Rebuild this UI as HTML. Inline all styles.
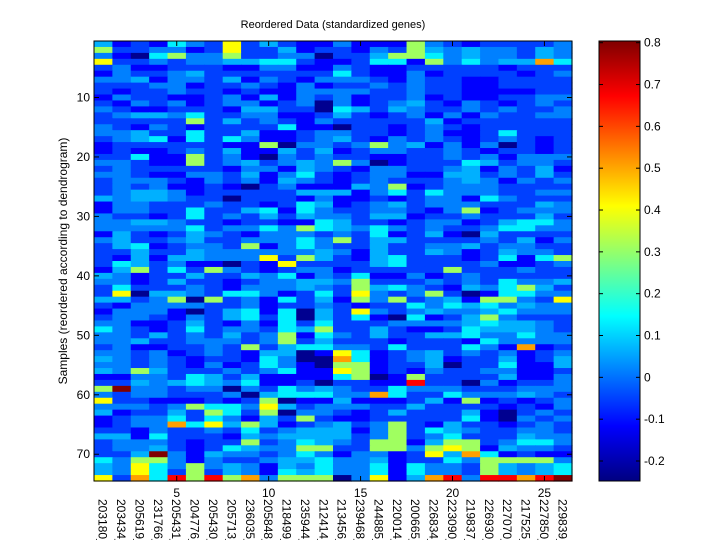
<!DOCTYPE html>
<html><head><meta charset="utf-8"><style>
html,body{margin:0;padding:0;background:#fff;}
svg{display:block;font-family:"Liberation Sans",Arial,sans-serif;}
</style></head><body>
<svg id="s" width="720" height="540" xmlns="http://www.w3.org/2000/svg">
<defs><linearGradient id="jet" x1="0" y1="1" x2="0" y2="0">
<stop offset="0" stop-color="#000080"/><stop offset="0.125" stop-color="#0000ff"/>
<stop offset="0.375" stop-color="#00ffff"/><stop offset="0.625" stop-color="#ffff00"/>
<stop offset="0.875" stop-color="#ff0000"/><stop offset="1" stop-color="#800000"/>
</linearGradient></defs>
<g id="hm"></g>
<rect x="94" y="41" width="478" height="440" fill="none" stroke="#000" stroke-width="1"/>
<rect x="599" y="41" width="41" height="440" fill="url(#jet)" stroke="#000" stroke-width="1"/>
<g id="ax" font-size="12"></g>
<text x="333" y="28" font-size="11" text-anchor="middle">Reordered Data (standardized genes)</text>
<text transform="translate(67,261) rotate(-90)" font-size="12" text-anchor="middle">Samples (reordered according to dendrogram)</text>
</svg>
<script>
var P={N:"#000090",D:"#0000ff",B:"#0040ff",M:"#0080ff",L:"#00b0ff",C:"#00f0ff",G:"#a0ff60",Y:"#ffff00",O:"#ffa000",R:"#ff0000",K:"#800000"};
var rows=[
"LDBDCMBYBLBDD"+"MDDDGMBDBBBBM",
"GBBMMDBYBBLDB"+"BDMBGLMLMMBLM",
"MDNCGMMGBBMMN"+"BBLGGCMLMMBLM",
"YBBMBMMLLCCBD"+"DBCCDGMCMLLOC",
"BMDDBBBDDMMDD"+"MBDDBBBBBDBBB",
"DMBBMLBBBBBBB"+"CBDDMDBBBBDBM",
"MMLDMMBLDMBDM"+"MMBDMBBDDBBBB",
"BBBMMDBBMBDMD"+"BBMBMBBDDBBBB",
"BDBBMBBDBDDMM"+"MMBBMBBDDDDBB",
"DMBBDDBMDLDMB"+"MDBBMDBDDBBMM",
"BDMBMDBMMDBMN"+"MDBMLBDMBDBMB",
"MBDDBBBDLLBBN"+"CLBLMBBMBMBBM",
"BMLLMCBBMMDDB"+"LBDBMDMDMBBMM",
"BBBBBGBLBMBDM"+"BBBBBLDBBBBBB",
"MBDMBDBBBBCDD"+"NBBDBMBDBBBBB",
"MMLBBCBBLDDBM"+"MBBDBMDDBCBBB",
"BMLCDCBCMDDBM"+"LBDMBMBDBMBDB",
"DBBBBBBDDGNMM"+"BMGMLDMDMNBDB",
"DBDDBMBLDDLBL"+"DBMMBBMBDBBDB",
"BBCDDGBMDNMBM"+"BBDDBBMBMDMMM",
"MMBDDGBMLBMLM"+"GMNDBBBCLBMMB",
"BMBBBBBDMMDLM"+"BDMMBBMLDMBLD",
"MMBDDMMBLDMCB"+"DBMMDDLLBMBLB",
"BMMMBDMBMDLMB"+"DBMBBBMLMDMBM",
"BMBMDDBDNBMDD"+"DLMGDBMMMBBBB",
"BMLLMDBBBBBLL"+"LDMCBCMMMBBMM",
"LMLLMBBNBBBDM"+"DDBDBMMDCMBBB",
"DMMBBBMBBDBCL"+"DBMLBMMMBBBLM",
"DMMBBCBBLCDCM"+"BBMMBDMGDBMMM",
"MBBDBCBMBLBLM"+"MBLLDBBMBBBLB",
"MMLLMBBDBBDDC"+"LBBDBMMDBLCCM",
"MMMMMCBMMCMGC"+"LMCMBMBBMCCMM",
"DLBDBLMBDMMMB"+"MBCDBLDNLBBBB",
"MLBBMLBBMMMCM"+"GBLLBBBBMBLDM",
"BLCDBMMBGDMCM"+"BBLBBMMLBMMBB",
"BBLBBLMMMMMML"+"MDLBBLMDBLMMB",
"BDLDLLMMMYBGL"+"BDLCBBBDBCDCG",
"BCLBMDDNBDYBB"+"BBLCBBBBMDDBM",
"DLGBCBGMBDBMM"+"DBBBBBGBBBMBB",
"LMDBBLBBLMCDM"+"BCDDMDBMBBBBB",
"MMDBLBBDBMMLL"+"MGBBBMBMBCMML",
"BCBBBMBDMMMLM"+"BGLCMBDLMCGLB",
"BYNLLMBCCMDBC"+"BYMBMGBNDCCMM",
"LLBMGNGBMDCBL"+"DGMGBMLDGGMBY",
"BDMMMMBBMDBBM"+"BDBBCMCLCMLMM",
"DMMMDNBLCDCNL"+"BYMBMLMMLCMMM",
"BMMBDMBLCBCNL"+"BCDNCDBLGMBBB",
"MMDDBLBDMDCBC"+"BBBMMMMLCLLMB",
"CMBDBCBMMBCLG"+"BBLBDDBCLLLMB",
"MMBLBMBLBMGDC"+"MBLBBLLCMMCMM",
"MMLBBMMMBMGBL"+"BBBDBBBDCMMMM",
"BMDDBBMBGBLCC"+"MMBCBBBCMDODB",
"MMBMDBMBDLLND"+"YCDBMLBMBMDBM",
"LMBMBDBBDCMNN"+"OCDBMLDBBLDBL",
"MMBMBDMDBCMDN"+"GGDBBLNBBCDDL",
"LMGLBBBMBMCDD"+"YGDBDMBBMMDDB",
"DDMMBCLBLDDDD"+"CGNDGBBBBLDDM",
"BBLMLCLMCDDBN"+"BBDDRBBNMDBBM",
"GKMMBMMNMBCML"+"MBBCMMMBBBMMM",
"MBMMBBBMNLCCC"+"MMOCBBCMMMLMB",
"YBBDDDBDBGNDD"+"LDDDBLDGDBDBM",
"MMMBMGCCMYLBM"+"MMBBLBBBBDBDM",
"LDBBLBGCBGNMM"+"BDBLBBBLDNBMB",
"DBMMCBCMDLBGB"+"DDBBBBBCDNMBM",
"DBMMOCYLGLDBM"+"LBMGBDLBBDBMB",
"BBDMBBMBCBMLL"+"LDMGBCLMBBMMB",
"LLDCBBBDLMLLL"+"LBMGBMCBBBLMM",
"BMMMBDBBGBMCL"+"MBGGDLGGBMCCM",
"BMMLBDBCLMMGG"+"BBGGMGYGDLMMB",
"BBLKMDLMMBMCM"+"DMMDBYLOCDBDD",
"CMGGMDMBBMLLC"+"MMLDBBCMGGGGM",
"LMYCMGMLMDLMC"+"MMCDCMMBGLMLC",
"LMYCBGBLMDCLC"+"MMCDCMMBGLMLC",
"YBOCRGRGOMGGG"+"NMYDLORMRRORK"
];
var h='',x0=94,y0=41,cw=478/26,rh=440/74;
for(var r=0;r<rows.length;r++){for(var c=0;c<26;c++){
var ch=rows[r][c]||'M';
h+='<rect x="'+(x0+c*cw).toFixed(2)+'" y="'+(y0+r*rh).toFixed(2)+'" width="'+(cw+0.6).toFixed(2)+'" height="'+(rh+0.6).toFixed(2)+'" fill="'+P[ch]+'"/>';}}
document.getElementById('hm').innerHTML=h;
var a='';
for(var k=10;k<=70;k+=10){var y=y0+(k-0.5)*rh;
a+='<line x1="94" y1="'+y+'" x2="99" y2="'+y+'" stroke="#000"/><line x1="567" y1="'+y+'" x2="572" y2="'+y+'" stroke="#000"/>';
a+='<text x="90" y="'+(y+4)+'" text-anchor="end">'+k+'</text>';}
for(var k=5;k<=25;k+=5){var x=x0+(k-0.5)*cw;
a+='<line x1="'+x+'" y1="481" x2="'+x+'" y2="476" stroke="#000"/><line x1="'+x+'" y1="41" x2="'+x+'" y2="46" stroke="#000"/>';
a+='<text x="'+x+'" y="497" text-anchor="middle">'+k+'</text>';}
var labs=["203180_","203434_","205619_","231766_","205431_","204776_","205430_","205713_","236035_","205848_","218499_","235944_","212414_","213456_","239468_","244885_","220014_","200665_","226834_","223090_","219837_","226930_","227070_","217525_","227850_","229839_"];
for(var c=0;c<26;c++){var x=x0+(c+0.5)*cw;
a+='<text transform="translate('+(x-4.5)+',499) rotate(90)" text-anchor="start">'+labs[c]+'</text>';}
var vals=[0.8,0.7,0.6,0.5,0.4,0.3,0.2,0.1,0,-0.1,-0.2];
for(var i=0;i<vals.length;i++){var y=42.7+i*41.83;
a+='<line x1="599" y1="'+y+'" x2="603" y2="'+y+'" stroke="#000"/><line x1="636" y1="'+y+'" x2="640" y2="'+y+'" stroke="#000"/>';
a+='<text x="644" y="'+(y+4)+'">'+(vals[i]==0?'0':String(vals[i]))+'</text>';}
document.getElementById('ax').innerHTML=a;
</script>
</body></html>
